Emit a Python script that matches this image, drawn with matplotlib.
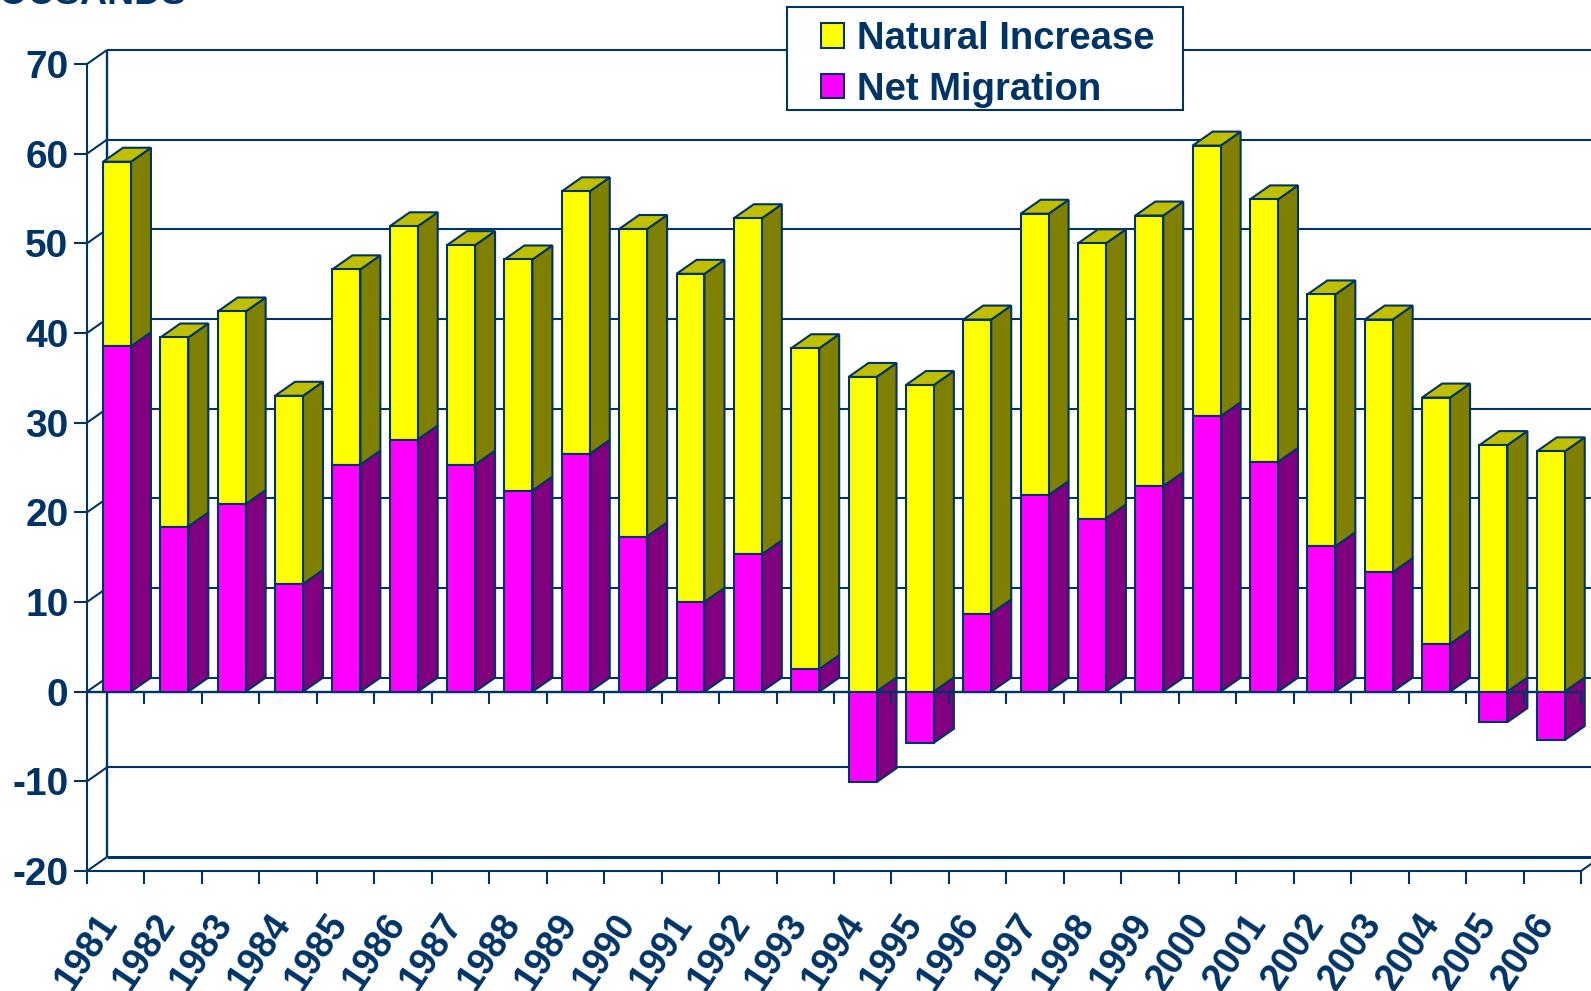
from __future__ import annotations

import matplotlib

matplotlib.use("Agg")

import matplotlib.pyplot as plt
from matplotlib.patches import Patch, Polygon, Rectangle

YEARS = [str(y) for y in range(1981, 2007)]
NATURAL_INCREASE = [20.6, 21.1, 21.5, 21.0, 21.8, 23.8, 24.5, 25.8, 29.3, 34.3, 36.6, 37.5, 35.8,
                    35.1, 34.2, 32.8, 31.4, 30.7, 30.2, 30.2, 29.3, 28.1, 28.2, 27.5, 27.5, 26.8]
NET_MIGRATION = [38.5, 18.4, 20.9, 12.0, 25.3, 28.1, 25.3, 22.4, 26.5, 17.3, 10.0, 15.3, 2.5,
                 -10.1, -5.7, 8.7, 21.9, 19.3, 22.9, 30.7, 25.6, 16.2, 13.3, 5.3, -3.4, -5.4]
Y_TICKS = list(range(-20, 80, 10))

W, H = 1591, 991
NAVY = "#003366"
YELLOW, YELLOW_SIDE, YELLOW_TOP = "#ffff00", "#808000", "#bfbf00"
MAGENTA, MAGENTA_SIDE = "#ff00ff", "#800080"
LW = 1.5

# pixel geometry of the front frame, then depth of the fake 3d in data units
LEFT, RIGHT, TOP, BOTTOM = 87, 1581, 64, 871
DX = 20 / 57.5
DY = 14 / 8.97
BAR_OFFSET = 16 / 57.5
BAR_W = 28 / 57.5
BAR_STEP = 57.35 / 57.46  # bars creep slightly left of the ticks in the source


def poly(ax, points, color, zorder):
    ax.add_patch(Polygon(points, closed=True, facecolor=color, edgecolor=NAVY, linewidth=LW,
                         zorder=zorder, clip_on=False, joinstyle="miter"))


def line(ax, xs, ys, lw=LW, zorder=1):
    ax.plot(xs, ys, color=NAVY, lw=lw, zorder=zorder, clip_on=False, solid_capstyle="butt")


def draw_bar(ax, i, natural, migration):
    x0 = i * BAR_STEP + BAR_OFFSET
    x1 = x0 + BAR_W
    base = max(migration, 0)
    total = base + natural

    # sides and top sit under the axis line, front faces over it
    poly(ax, [(x1, base), (x1 + DX, base + DY), (x1 + DX, total + DY), (x1, total)], YELLOW_SIDE, 2)
    poly(ax, [(x0, total), (x1, total), (x1 + DX, total + DY), (x0 + DX, total + DY)], YELLOW_TOP, 2)
    poly(ax, [(x1, 0), (x1 + DX, DY), (x1 + DX, migration + DY), (x1, migration)], MAGENTA_SIDE, 2)
    poly(ax, [(x0, base), (x1, base), (x1, total), (x0, total)], YELLOW, 4)
    poly(ax, [(x0, 0), (x1, 0), (x1, migration), (x0, migration)], MAGENTA, 4)


plt.rcParams["font.family"] = ["Liberation Sans", "DejaVu Sans"]
plt.rcParams["axes.unicode_minus"] = False

fig = plt.figure(figsize=(W / 100, H / 100), dpi=100, facecolor="white")
ax = fig.add_axes([LEFT / W, 1 - BOTTOM / H, (RIGHT - LEFT) / W, (BOTTOM - TOP) / H])
ax.set_xlim(0, len(YEARS))
ax.set_ylim(Y_TICKS[0], Y_TICKS[-1])
ax.patch.set_visible(False)

# back wall, left wall and floor
for v in Y_TICKS:
    line(ax, [0, DX], [v, v + DY])
    if v != Y_TICKS[0]:
        line(ax, [DX, len(YEARS) + DX], [v + DY, v + DY])
line(ax, [DX, DX], [Y_TICKS[0] + DY, Y_TICKS[-1] + DY], lw=1.7)
line(ax, [DX, len(YEARS) + DX], [Y_TICKS[0] + DY, Y_TICKS[0] + DY], lw=2.2)
line(ax, [len(YEARS), len(YEARS) + DX], [Y_TICKS[0], Y_TICKS[0] + DY])

for i, (natural, migration) in enumerate(zip(NATURAL_INCREASE, NET_MIGRATION)):
    draw_bar(ax, i, natural, migration)

# zero line with its own ticks
tick_len = 12 / 8.97
line(ax, [0, len(YEARS)], [0, 0], lw=1.7, zorder=3)
for i in range(len(YEARS) + 1):
    line(ax, [i, i], [0, -tick_len], zorder=3)

for side in ["top", "right"]:
    ax.spines[side].set_visible(False)
for side in ["left", "bottom"]:
    ax.spines[side].set_color(NAVY)
    ax.spines[side].set_linewidth(LW)

ax.set_yticks(Y_TICKS)
ax.set_xticks(range(len(YEARS) + 1))
ax.set_xticklabels(YEARS + [""])
ax.tick_params(axis="y", length=9.4, width=LW, color=NAVY, pad=4, labelsize=28, labelcolor=NAVY)
ax.tick_params(axis="x", length=9, width=LW, color=NAVY, pad=17, labelsize=27, labelcolor=NAVY)
for lab in ax.get_yticklabels():
    lab.set_fontweight("bold")
for lab in ax.get_xticklabels():
    lab.set_fontweight("bold")
    lab.set_rotation(56)

# legend box is wider than the entries, so frame and entries are separate
ax.add_patch(Rectangle((787 / W, 1 - 110 / H), 396 / W, 103 / H, transform=fig.transFigure,
                       facecolor="white", edgecolor=NAVY, linewidth=LW, zorder=9, clip_on=False))
handles = [
    Patch(facecolor=YELLOW, edgecolor=NAVY, linewidth=LW, label="Natural Increase"),
    Patch(facecolor=MAGENTA, edgecolor=NAVY, linewidth=LW, label="Net Migration"),
]
leg = ax.legend(
    handles=handles,
    loc="upper left",
    bbox_to_anchor=(821 / W, 1 - 21 / H),
    bbox_transform=fig.transFigure,
    borderaxespad=0,
    borderpad=0,
    frameon=False,
    prop={"size": 27.5, "weight": "bold"},
    labelcolor=NAVY,
    handlelength=0.6,
    handleheight=0.6,
    handletextpad=0.34,
    labelspacing=0.38,
)
leg.set_zorder(10)

# axis title runs off the top of the picture in the source
fig.text(187 / W, 1 - 4 / H, "THOUSANDS", ha="right", va="baseline", fontsize=27,
         fontweight="bold", color=NAVY)

fig.savefig("out.png", dpi=100, facecolor="white")
